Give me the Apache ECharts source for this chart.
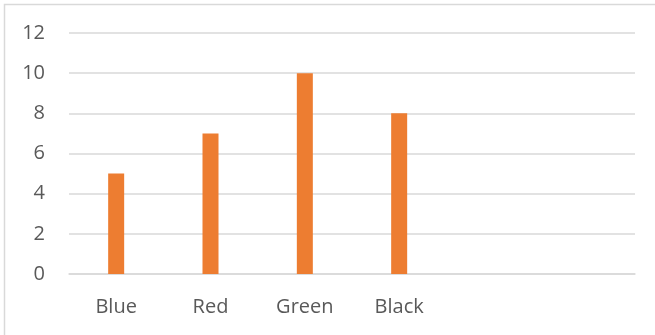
<!DOCTYPE html>
<html>
<head>
<meta charset="utf-8">
<script src="https://cdn.jsdelivr.net/npm/echarts@6/dist/echarts.min.js"></script>
<style>
html,body{margin:0;padding:0;background:#fff;}
#c{width:655px;height:335px;}
</style>
</head>
<body>
<div id="c"></div>
<script>
const categories = ['Blue', 'Red', 'Green', 'Black', '', ''];
const values = [5, 7, 10, 8, null, null];
const yTicks = { min: 0, max: 12, interval: 2 };

const chart = echarts.init(document.getElementById('c'), null, { renderer: 'canvas' });
chart.setOption({
  animation: false,
  backgroundColor: '#ffffff',
  graphic: [{
    type: 'rect',
    shape: { x: 4.5, y: 4.5, width: 700, height: 400 },
    style: { fill: 'none', stroke: '#d9d9d9', lineWidth: 1.5 },
    silent: true
  }],
  grid: { left: 69, right: 20, top: 33, bottom: 61, containLabel: false },
  xAxis: {
    type: 'category',
    data: categories,
    axisLine: { show: true, lineStyle: { color: '#d9d9d9', width: 1.5 } },
    axisTick: { show: false },
    axisLabel: { color: '#595959', fontFamily: 'Open Sans', fontSize: 20, margin: 23 },
    splitLine: { show: false }
  },
  yAxis: {
    type: 'value',
    min: yTicks.min, max: yTicks.max, interval: yTicks.interval,
    axisLine: { show: false },
    axisTick: { show: false },
    axisLabel: { color: '#595959', fontFamily: 'Open Sans', fontSize: 20, margin: 24 },
    splitLine: { lineStyle: { color: '#d9d9d9', width: 1.5 } }
  },
  series: [{
    type: 'bar',
    data: values,
    barWidth: 16,
    itemStyle: { color: '#ed7d31' }
  }]
});
</script>
</body>
</html>
